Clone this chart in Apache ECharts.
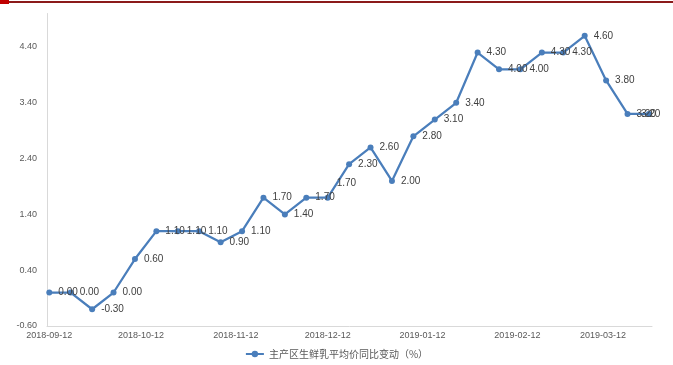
<!DOCTYPE html>
<html>
<head>
<meta charset="utf-8">
<style>
  html, body { margin: 0; padding: 0; background: #ffffff; }
  #chart { width: 673px; height: 365px; }
</style>
<script src="https://cdn.jsdelivr.net/npm/echarts@6/dist/echarts.min.js"></script>
</head>
<body>
<div id="chart"></div>
<script>
// Weekly observation dates
var dates = [
  '2018-09-12', '2018-09-19', '2018-09-26', '2018-10-03', '2018-10-10',
  '2018-10-17', '2018-10-24', '2018-10-31', '2018-11-07', '2018-11-14',
  '2018-11-21', '2018-11-28', '2018-12-05', '2018-12-12', '2018-12-19',
  '2018-12-26', '2019-01-02', '2019-01-09', '2019-01-16', '2019-01-23',
  '2019-01-30', '2019-02-06', '2019-02-13', '2019-02-20', '2019-02-27',
  '2019-03-06', '2019-03-13', '2019-03-20', '2019-03-27'
];

// Year-on-year change of average raw milk price in main producing areas (%)
var milkPriceYoY = [
  0.00, 0.00, -0.30, 0.00, 0.60,
  1.10, 1.10, 1.10, 0.90, 1.10,
  1.70, 1.40, 1.70, 1.70, 2.30,
  2.60, 2.00, 2.80, 3.10, 3.40,
  4.30, 4.00, 4.00, 4.30, 4.30,
  4.60, 3.80, 3.20, 3.20
];

// Date ticks shown under the x axis
var xTickLabels = [
  '2018-09-12', '2018-10-12', '2018-11-12', '2018-12-12',
  '2019-01-12', '2019-02-12', '2019-03-12'
];

var seriesName = '主产区生鲜乳平均价同比变动（%）';

var DAY = 24 * 3600 * 1000;
function toTime(s) {
  var p = s.split('-');
  return Date.UTC(+p[0], +p[1] - 1, +p[2]);
}
function fmtDate(t) {
  var d = new Date(Math.round(t));
  var mm = ('0' + (d.getUTCMonth() + 1)).slice(-2);
  var dd = ('0' + d.getUTCDate()).slice(-2);
  return d.getUTCFullYear() + '-' + mm + '-' + dd;
}

// label nudges: lift one above the line, pull the last one back inside the chart
var labelShifts = { 13: { dx: 0, dy: -14 }, 28: { dx: -17, dy: 0 } };

var seriesData = dates.map(function (d, i) {
  return [toTime(d), milkPriceYoY[i]];
});

var chart = echarts.init(document.getElementById('chart'), null, { renderer: 'canvas' });

chart.setOption({
  animation: false,
  backgroundColor: '#ffffff',
  textStyle: { fontFamily: '"Liberation Sans", Arial, sans-serif' },
  graphic: [
    { type: 'rect', shape: { x: 0, y: 0, width: 9, height: 4 }, style: { fill: '#c00000' }, silent: true },
    { type: 'rect', shape: { x: 9, y: 1, width: 664, height: 2 }, style: { fill: '#8b1a1a' }, silent: true }
  ],
  grid: { left: 47, right: 21, top: 13.5, bottom: 39, containLabel: false },
  legend: {
    bottom: 1,
    left: 'center',
    itemWidth: 18,
    itemHeight: 8,
    itemGap: 4,
    textStyle: { fontSize: 10, color: '#595959', fontFamily: '"Noto Sans CJK SC", sans-serif' },
    data: [seriesName]
  },
  xAxis: {
    type: 'value',
    scale: true,
    min: toTime(dates[0]) - 0.75 * DAY,
    max: toTime(dates[dates.length - 1]) + 1 * DAY,
    axisLine: { show: true, onZero: false, lineStyle: { color: '#d9d9d9', width: 1 } },
    axisTick: { show: false },
    splitLine: { show: false },
    axisLabel: {
      customValues: xTickLabels.map(toTime),
      formatter: function (v) { return fmtDate(v); },
      fontSize: 9,
      color: '#595959',
      margin: 5
    }
  },
  yAxis: {
    type: 'value',
    min: -0.6,
    max: 5.0,
    interval: 1,
    axisLine: { show: true, onZero: false, lineStyle: { color: '#d9d9d9', width: 1 } },
    axisTick: { show: false },
    splitLine: { show: false },
    axisLabel: {
      showMaxLabel: false,
      fontSize: 9,
      color: '#595959',
      margin: 10,
      formatter: function (v) { return v.toFixed(2); }
    }
  },
  series: [{
    name: seriesName,
    type: 'line',
    data: seriesData,
    symbol: 'circle',
    symbolSize: 6,
    lineStyle: { color: '#4a7ebb', width: 2.25 },
    itemStyle: { color: '#4a7ebb' },
    label: {
      show: true,
      position: 'right',
      distance: 6,
      fontSize: 10,
      color: '#404040',
      formatter: function (p) { return p.value[1].toFixed(2); }
    },
    labelLayout: function (params) {
      var s = labelShifts[params.dataIndex];
      var out = { hideOverlap: false };
      if (s) { out.dx = s.dx; out.dy = s.dy; }
      return out;
    }
  }]
});
</script>
</body>
</html>
